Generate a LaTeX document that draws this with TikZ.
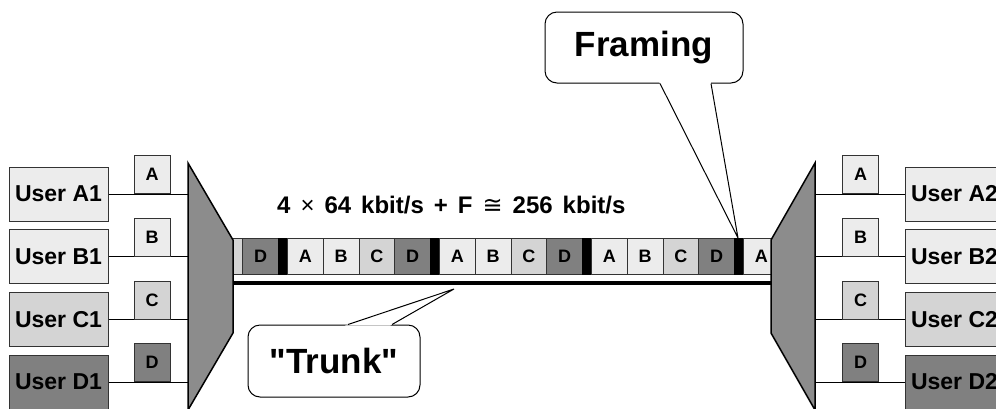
\documentclass[tikz,border=0pt]{standalone}
\usepackage{fontspec}
\setmainfont{Liberation Sans}[Ligatures=TeXOff]
\newfontfamily\symbfont{DejaVu Sans}
\usetikzlibrary{calc}

\definecolor{chanlight}{gray}{0.925}
\definecolor{chanmid}{gray}{0.83}
\definecolor{chandark}{gray}{0.5}
\definecolor{muxgray}{gray}{0.55}

\tikzset{
    userbox/.style={draw=black!80, line width=1pt, minimum width=99pt, minimum height=54pt, inner sep=0pt,
        font=\fontsize{23}{27}\selectfont\bfseries},
    tagbox/.style={draw=black!80, line width=0.8pt, minimum width=36pt, minimum height=38pt, inner sep=0pt,
        anchor=south, font=\fontsize{18}{20}\selectfont\bfseries},
    slot/.style={draw=black!80, line width=0.8pt, minimum width=35.75pt, minimum height=36pt, inner sep=0pt,
        anchor=west, font=\fontsize{18}{20}\selectfont\bfseries},
    wire/.style={line width=1pt},
    bubble/.style={draw, line width=1pt, rounded corners=12pt, fill=white, inner sep=0pt,
        font=\fontsize{35}{40}\selectfont\bfseries},
}

\begin{document}
\begin{tikzpicture}[x=1pt, y=-1pt]
    \useasboundingbox (0,0) rectangle (996,408);

    % edges of the two multiplexers
    \coordinate (muxin) at (188,0);
    \coordinate (muxout) at (815,0);
    \coordinate (tagL) at (152,0);
    \coordinate (tagR) at (860.5,0);

    % frames on the trunk
    \begin{scope}
        \clip (233,200) rectangle (771,300);
        \foreach \k in {-1,...,3} {
            \node[slot, minimum width=9pt, fill=black, draw=black] (bar\k) at (278+152*\k, 256) {};
            \foreach \l/\col [count=\j from 0] in {A/chanlight, B/chanlight, C/chanmid, D/chandark}
                \node[slot, fill=\col] (s\k\l) at (287+152*\k+35.75*\j, 256) {\l};
        }
    \end{scope}
    \coordinate (trunkL) at (233,283);
    \coordinate (trunkR) at (771,283);
    \draw[line width=4pt] (trunkL) -- (trunkR);

    % multiplexers
    \draw[line width=1.5pt, fill=muxgray] (188,163) -- (233,240) -- (233,333) -- (188,410) -- cycle;
    \draw[line width=1.5pt, fill=muxgray] (815,163) -- (771,240) -- (771,333) -- (815,410) -- cycle;

    % users on both sides
    \foreach \u/\col [count=\i from 0] in {A/chanlight, B/chanlight, C/chanmid, D/chandark} {
        \node[userbox, fill=\col] (u\u1) at (58.5, 194+62.67*\i) {User \u1};
        \node[userbox, fill=\col] (u\u2) at (954.5, 194+62.67*\i) {User \u2};
        \draw[wire] (u\u1.east) -- (u\u1.east -| muxin);
        \draw[wire] (u\u2.west) -- (u\u2.west -| muxout);
        \node[tagbox, fill=\col] (t\u1) at (u\u1.east -| tagL) {\u};
        \node[tagbox, fill=\col] (t\u2) at (u\u2.west -| tagR) {\u};
    }

    \node[anchor=base west, inner sep=0pt, font=\fontsize{24}{28}\selectfont\bfseries] (rate) at (277,213)
        {\spaceskip=10pt\relax 4 {\mdseries\texttimes} 64 kbit/s + F {\symbfont\mdseries ≅} 256 kbit/s};

    % callouts
    \node[bubble, minimum width=198pt, minimum height=71pt] (framing) at (644,47.5) {Framing};
    \coordinate (ftip) at (738,238);
    \coordinate (fa) at ($(framing.south)+(16,0)$);
    \coordinate (fb) at ($(framing.south)+(67,0)$);
    \fill[white] ($(fa)!-0.02!(ftip)$) -- (ftip) -- ($(fb)!-0.02!(ftip)$) -- cycle;
    \draw[line width=1pt] (fa) -- (ftip) -- (fb);

    \node[bubble, minimum width=172pt, minimum height=72pt] (trunk) at (334,361) {"Trunk"};
    \coordinate (ttip) at (454,289);
    \coordinate (ta) at ($(trunk.north)+(14,0)$);
    \coordinate (tb) at ($(trunk.north)+(58,0)$);
    \fill[white] ($(ta)!-0.03!(ttip)$) -- (ttip) -- ($(tb)!-0.03!(ttip)$) -- cycle;
    \draw[line width=1pt] (ta) -- (ttip) -- (tb);
\end{tikzpicture}
\end{document}
